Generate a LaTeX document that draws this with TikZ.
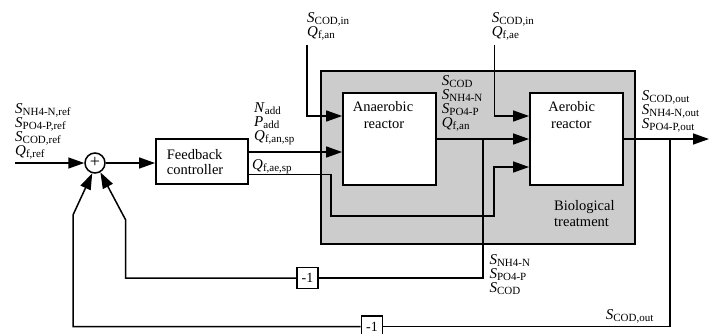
\documentclass[tikz,border=0pt]{standalone}
\usepackage{fontspec}
\setmainfont{Liberation Serif}
\usetikzlibrary{arrows.meta}
\newcommand{\sv}[2]{\textit{#1}\raisebox{-2.5pt}{\fontsize{11}{11}\selectfont #2}}
\begin{document}
\begin{tikzpicture}[x=1pt,y=-1pt,
  line/.style={line width=1.5pt},
  arr/.style={line width=1.5pt,-{Triangle[length=16pt,width=11pt]}},
  blk/.style={draw,line width=1.8pt,fill=white,inner sep=0pt},
  lab/.style={anchor=base west,inner sep=0pt,font=\fontsize{15}{15}\selectfont},
  txt/.style={anchor=base,inner sep=0pt,font=\fontsize{14.5}{16.5}\selectfont},
  txl/.style={anchor=base west,inner sep=0pt,font=\fontsize{14.5}{16.5}\selectfont},
  ]
\useasboundingbox (0,0) rectangle (709,333);
% biological treatment area
\node[draw,line width=2.2pt,fill=black!20,minimum width=314pt,minimum height=173pt,inner sep=0pt,anchor=north west] (bio) at (320,70) {};
% blocks
\node[blk,minimum width=93pt,minimum height=92pt] (an) at (389.5,139) {};
\node[blk,minimum width=92.7pt,minimum height=92pt] (ae) at (576.3,139) {};
\node[blk,minimum width=91.7pt,minimum height=45.3pt] (fb) at (201.8,161.7) {};
\node[blk,minimum size=21pt,font=\fontsize{14}{14}\selectfont] (m1) at (307.5,278) {-1};
\node[blk,minimum size=21pt,font=\fontsize{14}{14}\selectfont] (m2) at (372,326.5) {-1};
\node[draw,circle,line width=1.5pt,minimum size=20pt,inner sep=0pt,fill=white,font=\fontsize{18}{18}\selectfont] (sum) at (95,163) {};
\node[inner sep=0pt,font=\fontsize{18}{18}\selectfont] (plus) at (95,162.5) {+};
% block texts
\node[txt] (tan1) at (383,111.7) {Anaerobic};
\node[txt] (tan2) at (384,128) {reactor};
\node[txt] (tae1) at (571.7,111.7) {Aerobic};
\node[txt] (tae2) at (571.3,128) {reactor};
\node[txl] (tfb1) at (166.7,159) {Feedback};
\node[txl] (tfb2) at (166.7,174) {controller};
\node[txl] (tbio1) at (554,210) {Biological};
\node[txl] (tbio2) at (554,226) {treatment};
% coordinates
\coordinate (in0) at (15,163);
\coordinate (srcA) at (307,45);
\coordinate (srcB) at (494.5,45);
\coordinate (y116) at (0,116);
\coordinate (y152) at (0,152);
\coordinate (y174) at (0,174.5);
\coordinate (y167) at (0,167);
\coordinate (k1) at (331,216);
\coordinate (k2) at (494,216);
\coordinate (outE) at (709,139);
\coordinate (b1) at (483,139);
\coordinate (b2) at (670,139);
\coordinate (f1) at (125.7,220);
\coordinate (f2) at (73,215);
% connectors
\draw[arr] (in0) -- (sum);
\draw[arr] (sum.east) -- (sum.east -| fb.west);
\draw[arr] (fb.east |- y152) -- (an.west |- y152);
\draw[arr] (srcA) |- (an.west |- y116);
\draw[arr] (srcB) |- (ae.west |- y116);
\draw[arr] (fb.east |- y174) -| (k1) -- (k2) |- (ae.west |- y167);
\draw[arr] (an.east) -- (ae.west);
\draw[arr] (ae.east) -- (outE);
\draw[line] (b1) |- (m1.east);
\draw[arr] (m1.west) -| (f1) -- (sum.-60);
\draw[line] (b2) |- (m2.east);
\draw[arr] (m2.west) -| (f2) -- (sum.-105);
% labels
\node[lab] (l1) at (15,113) {\sv{S}{NH4-N,ref}};
\node[lab] (l2) at (15,127) {\sv{S}{PO4-P,ref}};
\node[lab] (l3) at (15,141) {\sv{S}{COD,ref}};
\node[lab] (l4) at (15,155) {\sv{Q}{f,ref}};
\node[lab] (n1) at (254,112) {\sv{N}{add}};
\node[lab] (n2) at (254,126) {\sv{P}{add}};
\node[lab] (n3) at (254,140) {\sv{Q}{f,an,sp}};
\node[lab] (n4) at (252,169) {\sv{Q}{f,ae,sp}};
\node[lab] (a1) at (307,22) {\sv{S}{COD,in}};
\node[lab] (a2) at (307,36) {\sv{Q}{f,an}};
\node[lab] (b1l) at (491.7,22) {\sv{S}{COD,in}};
\node[lab] (b2l) at (491.7,36) {\sv{Q}{f,ae}};
\node[lab] (i1) at (441.7,85) {\sv{S}{COD}};
\node[lab] (i2) at (441.7,99) {\sv{S}{NH4-N}};
\node[lab] (i3) at (441.7,113) {\sv{S}{PO4-P}};
\node[lab] (i4) at (441.7,127) {\sv{Q}{f,an}};
\node[lab] (o1) at (641.7,100) {\sv{S}{COD,out}};
\node[lab] (o2) at (641.7,114) {\sv{S}{NH4-N,out}};
\node[lab] (o3) at (641.7,128) {\sv{S}{PO4-P,out}};
\node[lab] (d1) at (489.3,264) {\sv{S}{NH4-N}};
\node[lab] (d2) at (489.3,278) {\sv{S}{PO4-P}};
\node[lab] (d3) at (489.3,292) {\sv{S}{COD}};
\node[lab] (e1) at (605.7,319) {\sv{S}{COD,out}};
\end{tikzpicture}
\end{document}
